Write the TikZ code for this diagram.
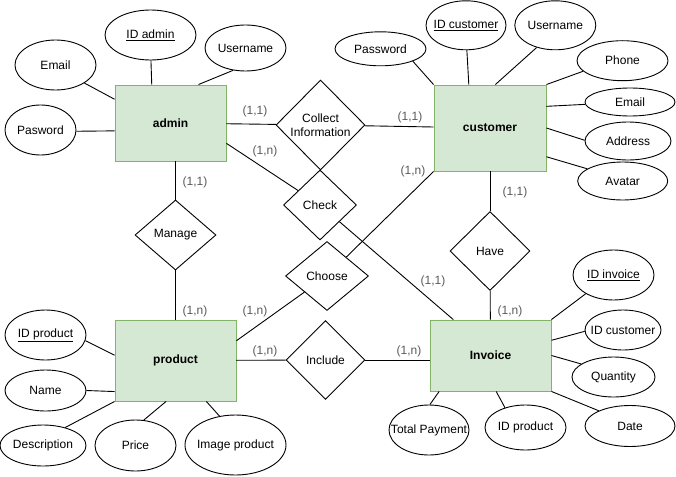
\documentclass[tikz,border=0pt]{standalone}
\usepackage{fontspec}
\setmainfont{Liberation Sans}
\usepackage{xcolor}
\usepackage{tikz}
\usetikzlibrary{shapes.geometric}
\definecolor{entfill}{HTML}{D5E8D4}
\definecolor{entline}{HTML}{82B366}
\definecolor{cardtext}{HTML}{5A5A5A}

\begin{document}
\begin{tikzpicture}[x=1pt, y=-1pt, line width=0.9pt,
    font=\fontsize{12}{14}\selectfont,
    entity/.style 2 args={rectangle, draw=entline, fill=entfill, inner sep=0pt,
      minimum width=#1pt, minimum height=#2pt, font=\fontsize{12}{14}\selectfont\bfseries},
    attr/.style 2 args={ellipse, draw, inner xsep=-30pt, inner ysep=0pt,
      minimum width=#1pt, minimum height=#2pt},
    rel/.style 2 args={diamond, draw, inner sep=0pt, align=center,
      minimum width=#1pt, minimum height=#2pt},
    card/.style={text=cardtext, inner sep=0pt}]
  \useasboundingbox (0,0) rectangle (676,476);

  \node[entity={111}{76}] (admin) at (170.5,123) {admin};
  \node[entity={112}{86}] (customer) at (490,128) {customer};
  \node[entity={121}{81}] (product) at (175.5,360.5) {product};
  \node[entity={121}{71}] (invoice) at (490.5,355.5) {Invoice};

  \node[rel={89}{90}] (collect) at (320.5,125) {Collect\\Information};
  \node[rel={73}{70}] (check) at (320,205) {Check};
  \node[rel={83}{69}] (choose) at (327,276) {Choose};
  \node[rel={81}{70}] (manage) at (175.5,235) {Manage};
  \node[rel={80}{79}] (have) at (490,251) {Have};
  \node[rel={79}{79}] (include) at (325.5,360) {Include};

  \node[attr={81}{50}] (aem) at (55.5,65) {Email};
  \node[attr={91}{50}] (aid) at (150.5,35) {\underline{ID admin}};
  \node[attr={81}{46}] (aun) at (245.5,48) {Username};
  \node[attr={71}{50}] (apw) at (40.5,130) {Pasword};

  \node[attr={91}{34}] (cpw) at (380.5,48.8) {Password};
  \node[attr={80}{49}] (cid) at (466,25.3) {\underline{ID customer}};
  \node[attr={81}{49}] (cun) at (555.3,25.3) {Username};
  \node[attr={91}{40}] (cph) at (622.5,60.7) {Phone};
  \node[attr={90}{28}] (cem) at (630,102) {Email};
  \node[attr={86}{38}] (cad) at (628,141) {Address};
  \node[attr={90}{38}] (cav) at (622.7,181) {Avatar};

  \node[attr={81}{50}] (pid) at (45.5,335) {\underline{ID product}};
  \node[attr={81}{41}] (pnm) at (45.5,390.5) {Name};
  \node[attr={86}{41}] (pds) at (43,445.5) {Description};
  \node[attr={81}{51}] (ppr) at (135.5,445.5) {Price};
  \node[attr={101}{60}] (pim) at (235.5,445) {Image product};

  \node[attr={81}{50}] (iid) at (613.5,275) {\underline{ID invoice}};
  \node[attr={76}{40}] (icu) at (623,330) {ID customer};
  \node[attr={83}{40}] (iqt) at (613.5,377) {Quantity};
  \node[attr={90}{41}] (idt) at (630,426) {Date};
  \node[attr={80}{50}] (itp) at (429,430) {Total Payment};
  \node[attr={81}{45}] (ipr) at (525.5,427.5) {ID product};

  % attributes
  \draw (aem.-32) -- (admin.157);
  \draw (aid.-89) -- (admin.116);
  \draw (aun.-119) -- (admin.54);
  \draw (apw.-2) -- (admin.188);

  \draw (cpw.-21) -- (customer.north west);
  \draw (cid.-88) -- (customer.116);
  \draw (cun.-130) -- (customer.83);
  \draw (cph.-165) -- (customer.north east);
  \draw (cem.-177) -- (customer.21);
  \draw (cad.179) -- (customer.east);
  \draw (cav.161) -- (customer.-27);

  \draw (pid.-8) -- (product.175);
  \draw (pnm.east) -- (product.-153);
  \draw (pds.39) -- (product.south west);
  \draw (ppr.72) -- (product.-103);
  \draw (pim.119) -- (product.-53);

  \draw (iid.-146) -- (invoice.north east);
  \draw (icu.-178) -- (invoice.14);
  \draw (iqt.158) -- (invoice.east);
  \draw (idt.154) -- (invoice.south east);
  \draw (itp.88) -- (invoice.-145);
  \draw (ipr.136) -- (invoice.-81);

  % relationships
  \draw (admin) -- (collect);
  \draw (collect) -- (customer);
  \draw (admin.-20) -- (check);
  \draw (check) -- (invoice.136);
  \draw (manage |- admin.south) -- (manage);
  \draw (manage) -- (product);
  \draw (product.18) -- (choose);
  \draw (choose) -- (customer.south west);
  \draw (customer) -- (have);
  \draw (have) -- (invoice);
  \draw (product) -- (include);
  \draw (include) -- (include -| invoice.west);

  \node[card] (k1) at (255,111) {(1,1)};
  \node[card] (k2) at (410,117) {(1,1)};
  \node[card] (k3) at (265,151) {(1,n)};
  \node[card] (k4) at (195,182) {(1,1)};
  \node[card] (k5) at (195,311) {(1,n)};
  \node[card] (k6) at (255,311) {(1,n)};
  \node[card] (k7) at (413,171) {(1,n)};
  \node[card] (k8) at (433,281) {(1,1)};
  \node[card] (k9) at (265,351) {(1,n)};
  \node[card] (k10) at (409,351) {(1,n)};
  \node[card] (k11) at (515,192) {(1,1)};
  \node[card] (k12) at (510,311) {(1,n)};
\end{tikzpicture}
\end{document}
